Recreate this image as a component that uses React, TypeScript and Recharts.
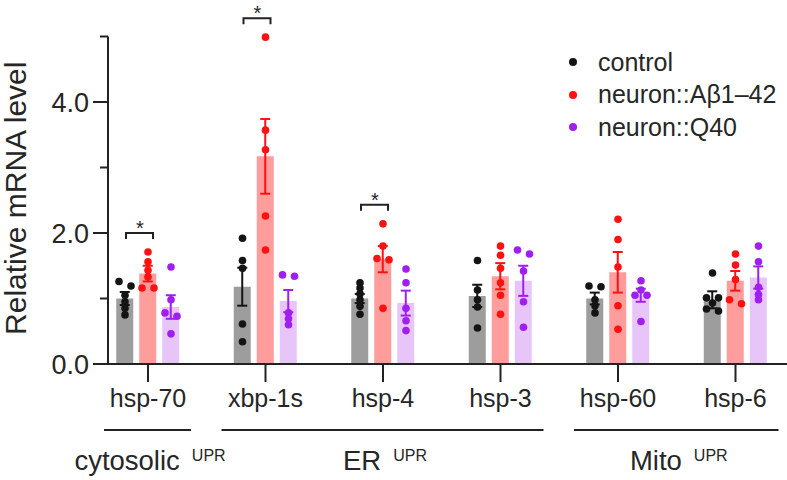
import React from 'react';
import { ComposedChart, Bar, ErrorBar, Scatter, XAxis, YAxis, Legend, ReferenceDot } from 'recharts';

const genes = ['hsp-70', 'xbp-1s', 'hsp-4', 'hsp-3', 'hsp-60', 'hsp-6'];

const controlMean = [1.0, 1.18, 1.0, 1.04, 1.0, 0.98];
const controlSem = [0.1, 0.29, 0.07, 0.17, 0.09, 0.13];
const abetaMean = [1.38, 3.17, 1.6, 1.34, 1.4, 1.27];
const abetaSem = [0.12, 0.57, 0.2, 0.2, 0.31, 0.15];
const q40Mean = [0.87, 0.96, 0.93, 1.27, 1.05, 1.32];
const q40Sem = [0.18, 0.17, 0.19, 0.23, 0.1, 0.17];

// individual replicates, one list per gene
const controlPoints = [
  [1.26, 1.19, 1.05, 0.95, 0.85, 0.75],
  [1.92, 1.58, 1.46, 0.61, 0.34],
  [1.24, 1.16, 1.07, 0.98, 0.88, 0.76],
  [1.58, 1.13, 0.98, 0.87, 0.55],
  [1.19, 1.18, 0.98, 0.89, 0.78],
  [1.39, 1.01, 1.01, 0.93, 0.84, 0.81],
];
const abetaPoints = [
  [1.71, 1.56, 1.43, 1.33, 1.16, 1.16],
  [4.99, 3.57, 3.27, 2.26, 1.74],
  [2.14, 1.8, 1.61, 1.59, 0.85],
  [1.8, 1.66, 1.46, 1.24, 1.05, 0.76],
  [2.21, 1.9, 1.48, 0.89, 0.53],
  [1.68, 1.51, 1.29, 0.98, 0.92],
];
const q40Points = [
  [1.48, 0.98, 0.78, 0.73, 0.46],
  [1.36, 1.34, 0.78, 0.69, 0.6],
  [1.45, 1.24, 0.85, 0.66, 0.51],
  [1.74, 1.68, 1.42, 0.95, 0.56],
  [1.27, 1.13, 1.05, 1.05, 0.65],
  [1.8, 1.56, 1.17, 1.06, 0.98],
];

const yTicks = [0, 1, 2, 3, 4, 5];

const sigGenes = ['hsp-70', 'xbp-1s', 'hsp-4'];
const sigLevels = [2.0, 5.28, 2.43];

const groupNames = ['cytosolic', 'ER', 'Mito'];
const groupGenes = [['hsp-70'], ['xbp-1s', 'hsp-4', 'hsp-3'], ['hsp-60', 'hsp-6']];

const FONT = '"Liberation Sans", Arial, sans-serif';
const TEXT = '#262626';
const BAR = 17;
const GAP = 6;

const series = [
  { key: 'control', name: 'control', dot: '#141414', fill: '#9d9d9d', err: '#141414', points: controlPoints },
  { key: 'abeta', name: 'neuron::Aβ1–42', dot: '#ff1111', fill: '#ff9d9d', err: '#ff1111', points: abetaPoints },
  { key: 'q40', name: 'neuron::Q40', dot: '#a11ef0', fill: '#e7c5f8', err: '#a11ef0', points: q40Points },
];

const data = genes.map((gene, i) => ({
  gene,
  control: controlMean[i],
  controlErr: controlSem[i],
  abeta: abetaMean[i],
  abetaErr: abetaSem[i],
  q40: q40Mean[i],
  q40Err: q40Sem[i],
}));

// spread replicates that sit on top of each other sideways
const spread = (vals: number[]) => {
  const order = vals.map((_, i) => i).sort((a, b) => vals[b] - vals[a]);
  const off = new Array(vals.length).fill(0);
  let cluster = [order[0]];
  const flush = () => cluster.forEach((idx, k) => { off[idx] = (k - (cluster.length - 1) / 2) * 12; });
  for (let k = 1; k < order.length; k++) {
    if (vals[order[k - 1]] - vals[order[k]] < 0.075) cluster.push(order[k]);
    else { flush(); cluster = [order[k]]; }
  }
  flush();
  return off;
};

const scatterData = (points: number[][]) =>
  points.flatMap((vals, gi) => {
    const off = spread(vals);
    return vals.map((v, k) => ({ gene: genes[gi], value: v, dx: off[k] }));
  });

const YTick = ({ x, y, payload }: any) => {
  const v = payload.value;
  const major = v % 2 === 0 && v < 5;
  return (
    <g>
      <line x1={x - (major ? 15 : 8)} x2={x} y1={y} y2={y} stroke="#222" strokeWidth={2} />
      {major && (
        <text x={x - 19} y={y} dy={9.5} textAnchor="end" fontSize={27} fontFamily={FONT} fill={TEXT}>
          {v.toFixed(1)}
        </text>
      )}
    </g>
  );
};

const GeneTick = ({ x, y, payload }: any) => {
  const half = payload.offset > 0 ? payload.offset : 58.75;
  const gi = groupGenes.findIndex(g => g.includes(payload.value));
  const first = gi >= 0 && groupGenes[gi][0] === payload.value;
  const x2 = first ? x + (groupGenes[gi].length - 1) * half * 2 : x;
  return (
    <g>
      <line x1={x} x2={x} y1={y} y2={y + 18} stroke="#222" strokeWidth={2} />
      <text x={x} y={y + 43} textAnchor="middle" fontSize={25} fontFamily={FONT} fill={TEXT}>
        {payload.value}
      </text>
      {first && (
        <g>
          <line x1={x - 44} x2={x2 + 43} y1={y + 66} y2={y + 66} stroke="#222" strokeWidth={2} />
          <text x={(x + x2) / 2 + 2} y={y + 106} textAnchor="middle" fontSize={27.5} fontFamily={FONT} fill={TEXT}>
            {groupNames[gi]}
            <tspan fontSize={16} dx={12} dy={-9}>UPR</tspan>
          </text>
        </g>
      )}
    </g>
  );
};

const Bracket = ({ cx, cy }: any) => (
  <g>
    <path
      d={`M${cx - 22},${cy + 6} V${cy} H${cx + 5} V${cy + 6}`}
      fill="none"
      stroke="#222"
      strokeWidth={2}
    />
    <text x={cx - 8} y={cy + 2} textAnchor="middle" fontSize={20} fontFamily={FONT} fill={TEXT}>
      *
    </text>
  </g>
);

const YLabel = ({ viewBox }: any) => (
  <text
    transform={`translate(${viewBox.x + 18},${viewBox.y + viewBox.height / 2 - 2}) rotate(-90)`}
    textAnchor="middle"
    dominantBaseline="middle"
    fontSize={30}
    fontFamily={FONT}
    fill={TEXT}
  >
    Relative mRNA level
  </text>
);

const LegendBox = () => (
  <div style={{ fontFamily: FONT, fontSize: 25, color: TEXT }}>
    {series.map(s => (
      <div key={s.key} style={{ display: 'flex', alignItems: 'center', height: 32.5, whiteSpace: 'nowrap' }}>
        <span
          style={{ display: 'inline-block', width: 8, height: 8, borderRadius: 4, background: s.dot, marginLeft: 4, marginRight: 21 }}
        />
        {s.name}
      </div>
    ))}
  </div>
);

export default function App() {
  return (
    <div style={{ position: 'absolute', left: 0, top: 0, background: '#fff' }}>
      <ComposedChart
        width={787}
        height={480}
        data={data}
        margin={{ top: 36.5, right: 0, bottom: 0, left: 0 }}
        barGap={GAP}
      >
        <XAxis
          dataKey="gene"
          allowDuplicatedCategory={false}
          padding={{ left: -18.75, right: -7.25 }}
          interval={0}
          height={116}
          tickLine={false}
          tickSize={0}
          tickMargin={0}
          tick={<GeneTick />}
          axisLine={{ stroke: '#222', strokeWidth: 2 }}
        />
        <YAxis
          domain={[0, 5]}
          ticks={yTicks}
          width={108}
          tickLine={false}
          tickSize={0}
          tickMargin={0}
          tick={<YTick />}
          axisLine={{ stroke: '#222', strokeWidth: 2 }}
          label={<YLabel />}
        />
        {series.map(s => (
          <Bar key={s.key} dataKey={s.key} name={s.name} fill={s.fill} barSize={BAR} isAnimationActive={false} legendType="none">
            <ErrorBar dataKey={`${s.key}Err`} width={5} strokeWidth={2} stroke={s.err} direction="y" />
          </Bar>
        ))}
        {series.map((s, si) => (
          <Scatter
            key={`${s.key}-pts`}
            data={scatterData(s.points)}
            dataKey="value"
            name={s.name}
            isAnimationActive={false}
            shape={(p: any) => (
              <circle cx={p.cx + (si - 1) * (BAR + GAP) + p.payload.dx} cy={p.cy} r={3.8} fill={s.dot} />
            )}
          />
        ))}
        {sigGenes.map((g, i) => (
          <ReferenceDot key={g} x={g} y={sigLevels[i]} ifOverflow="visible" shape={<Bracket />} />
        ))}
        <Legend
          layout="vertical"
          align="center"
          verticalAlign="middle"
          content={<LegendBox />}
          wrapperStyle={{ top: 46, left: 565, right: 'auto', bottom: 'auto', width: 220 }}
        />
      </ComposedChart>
    </div>
  );
}
